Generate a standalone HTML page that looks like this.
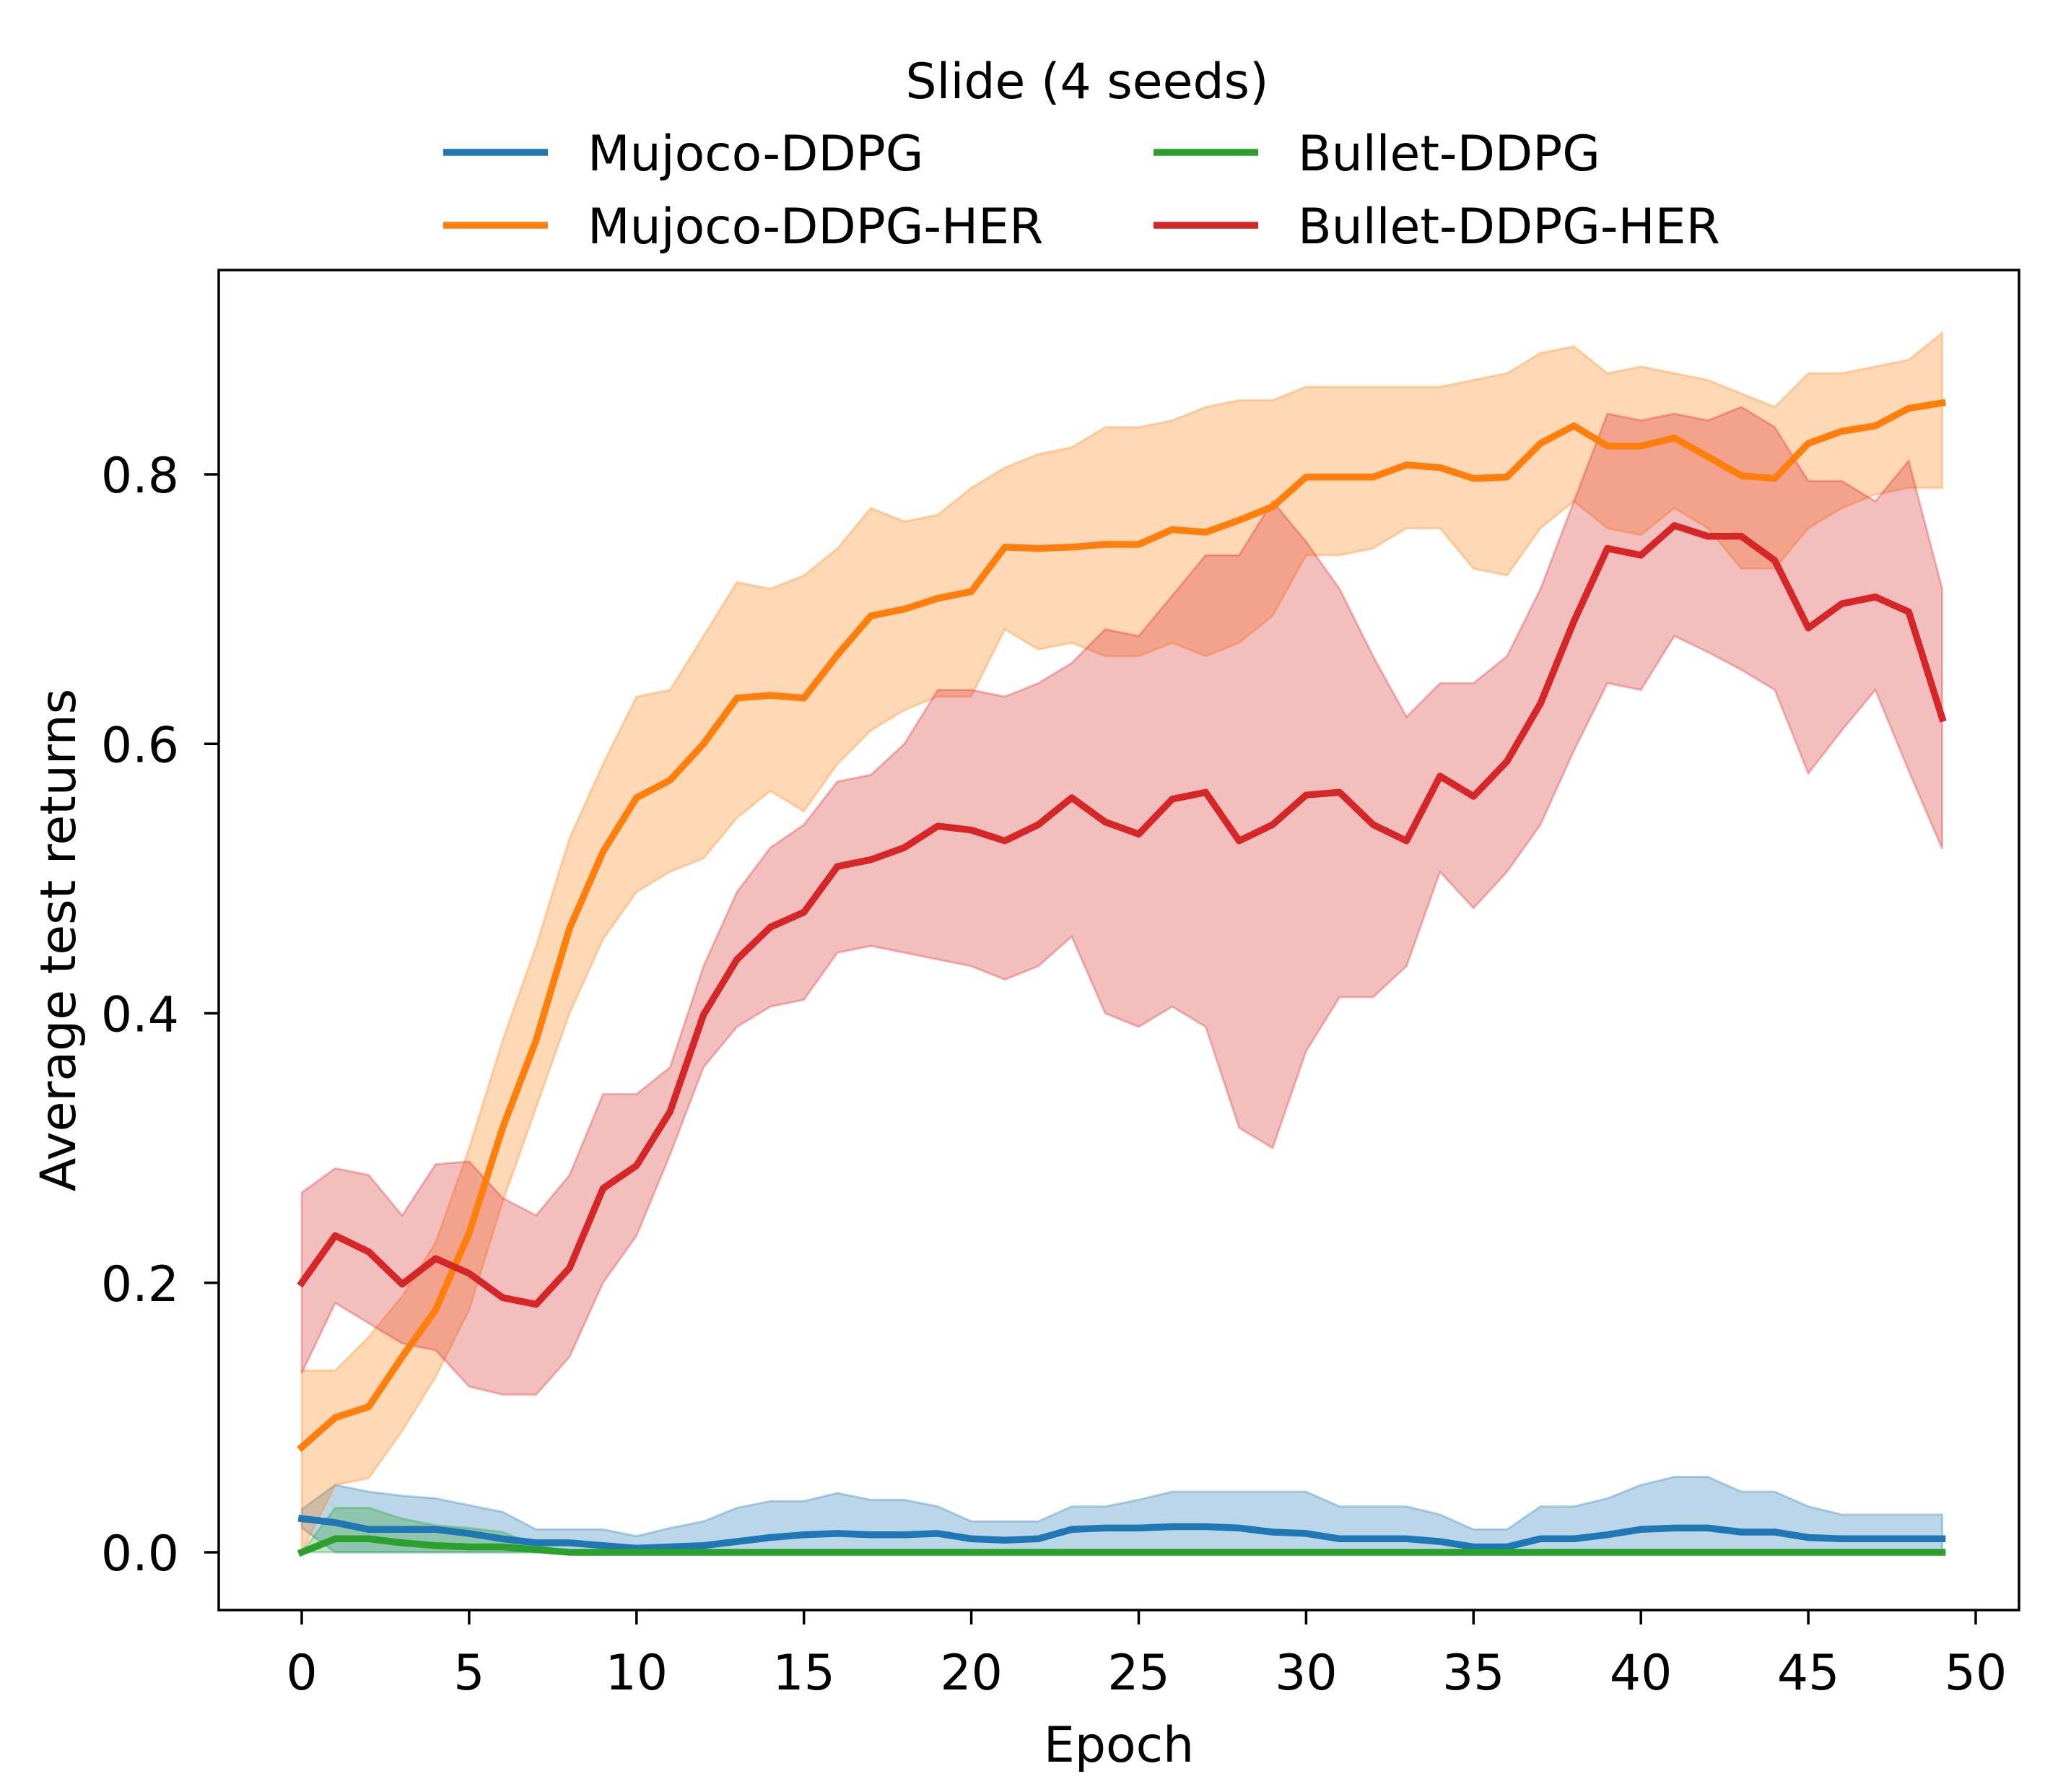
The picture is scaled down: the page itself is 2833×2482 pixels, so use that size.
<!DOCTYPE html>
<html><head><meta charset="utf-8"><style>
html,body{margin:0;padding:0;background:#fff;}
svg{display:block;font-family:"DejaVu Sans","Liberation Sans",sans-serif;}
</style></head><body>
<svg id="chart" xmlns="http://www.w3.org/2000/svg" width="2833" height="2482" viewBox="0 0 2833 2482">
<rect width="2833" height="2482" fill="#fff"/>
<g id="bands"></g><g id="lines"></g>
<rect x="303" y="374" width="2494" height="1856" fill="none" stroke="#000" stroke-width="3.5"/>
<g id="axes"></g>
<text x="1550" y="2440" font-size="68" text-anchor="middle">Epoch</text>
<text transform="translate(104,1302) rotate(-90)" font-size="68" text-anchor="middle">Average test returns</text>
<g id="legend">
<text x="1506" y="136" font-size="68" text-anchor="middle">Slide (4 seeds)</text>
</g>
</svg>
<script>
const epochs = Array.from({length:50},(_, i)=>i);
const xTicks = [0,5,10,15,20,25,30,35,40,45,50];
const yTicks = [0.0,0.2,0.4,0.6,0.8];
const yTickLabels = ["0.0","0.2","0.4","0.6","0.8"];
const seriesNames = ["Mujoco-DDPG","Mujoco-DDPG-HER","Bullet-DDPG","Bullet-DDPG-HER"];
const blueMean = [0.025,0.022,0.017,0.017,0.017,0.014,0.01,0.007,0.007,0.005,0.003,0.004,0.005,0.008,0.011,0.013,0.014,0.013,0.013,0.014,0.01,0.009,0.01,0.017,0.018,0.018,0.019,0.019,0.018,0.015,0.014,0.01,0.01,0.01,0.008,0.004,0.004,0.01,0.01,0.013,0.017,0.018,0.018,0.015,0.015,0.011,0.01,0.01,0.01,0.01];
const blueUpper = [0.032,0.05,0.045,0.042,0.04,0.035,0.03,0.017,0.017,0.017,0.012,0.018,0.023,0.033,0.038,0.038,0.044,0.039,0.039,0.034,0.023,0.023,0.023,0.034,0.034,0.039,0.045,0.045,0.045,0.045,0.045,0.034,0.034,0.034,0.028,0.017,0.017,0.034,0.034,0.04,0.05,0.056,0.056,0.045,0.045,0.034,0.028,0.028,0.028,0.028];
const blueLower = [0.018,0,0,0,0,0,0,0,0,0,0,0,0,0,0,0,0,0,0,0,0,0,0,0,0,0,0,0,0,0,0,0,0,0,0,0,0,0,0,0,0,0,0,0,0,0,0,0,0,0];
const orangeMean = [0.078,0.1,0.108,0.145,0.18,0.237,0.315,0.38,0.463,0.52,0.56,0.573,0.6,0.634,0.636,0.634,0.666,0.695,0.7,0.708,0.713,0.746,0.745,0.746,0.748,0.748,0.759,0.757,0.766,0.776,0.798,0.798,0.798,0.807,0.805,0.797,0.798,0.823,0.836,0.821,0.821,0.827,0.813,0.799,0.797,0.823,0.832,0.836,0.849,0.853];
const orangeUpper = [0.135,0.135,0.16,0.19,0.23,0.3,0.38,0.45,0.53,0.585,0.635,0.64,0.68,0.72,0.715,0.725,0.745,0.775,0.765,0.77,0.79,0.805,0.815,0.82,0.835,0.835,0.84,0.85,0.855,0.855,0.865,0.865,0.865,0.865,0.865,0.87,0.875,0.89,0.895,0.875,0.88,0.875,0.87,0.86,0.85,0.875,0.875,0.88,0.885,0.905];
const orangeLower = [0.0,0.05,0.055,0.09,0.13,0.18,0.26,0.33,0.4,0.455,0.49,0.505,0.515,0.545,0.565,0.55,0.585,0.61,0.625,0.635,0.635,0.685,0.67,0.675,0.665,0.665,0.675,0.665,0.675,0.695,0.74,0.74,0.745,0.76,0.76,0.73,0.725,0.76,0.78,0.76,0.755,0.775,0.76,0.73,0.73,0.76,0.775,0.785,0.79,0.79];
const greenMean = [0,0.01,0.01,0.007,0.005,0.004,0.004,0.002,0,0,0,0,0,0,0,0,0,0,0,0,0,0,0,0,0,0,0,0,0,0,0,0,0,0,0,0,0,0,0,0,0,0,0,0,0,0,0,0,0,0];
const greenUpper = [0,0.033,0.033,0.025,0.02,0.018,0.015,0.005,0,0,0,0,0,0,0,0,0,0,0,0,0,0,0,0,0,0,0,0,0,0,0,0,0,0,0,0,0,0,0,0,0,0,0,0,0,0,0,0,0,0];
const greenLower = [0,0,0,0,0,0,0,0,0,0,0,0,0,0,0,0,0,0,0,0,0,0,0,0,0,0,0,0,0,0,0,0,0,0,0,0,0,0,0,0,0,0,0,0,0,0,0,0,0,0];
const redMean = [0.2,0.235,0.223,0.199,0.218,0.207,0.189,0.184,0.211,0.27,0.287,0.327,0.399,0.44,0.464,0.475,0.509,0.514,0.523,0.539,0.536,0.528,0.54,0.56,0.542,0.533,0.559,0.564,0.528,0.54,0.562,0.564,0.54,0.528,0.576,0.561,0.587,0.63,0.691,0.745,0.74,0.762,0.754,0.754,0.736,0.686,0.704,0.709,0.698,0.619];
const redUpper = [0.267,0.285,0.28,0.25,0.288,0.29,0.263,0.25,0.28,0.34,0.34,0.36,0.435,0.49,0.523,0.54,0.572,0.577,0.6,0.64,0.64,0.635,0.645,0.66,0.685,0.68,0.71,0.74,0.74,0.78,0.75,0.715,0.665,0.62,0.645,0.645,0.665,0.715,0.78,0.845,0.84,0.845,0.84,0.85,0.835,0.795,0.795,0.78,0.81,0.715];
const redLower = [0.133,0.185,0.17,0.155,0.15,0.123,0.117,0.117,0.145,0.2,0.235,0.295,0.36,0.39,0.405,0.41,0.445,0.45,0.445,0.44,0.435,0.425,0.435,0.457,0.4,0.39,0.405,0.39,0.315,0.3,0.372,0.412,0.412,0.435,0.505,0.478,0.505,0.54,0.595,0.645,0.64,0.68,0.668,0.655,0.64,0.578,0.61,0.64,0.58,0.522];

const NS="http://www.w3.org/2000/svg";
const X0=418,X1=2737,Y0=2150,Y08=657;
const xs=e=>X0+e*(X1-X0)/50;
const ys=v=>Y0-v*(Y0-Y08)/0.8;
function mk(tag,attrs,parent){const el=document.createElementNS(NS,tag);for(const k in attrs)el.setAttribute(k,attrs[k]);parent.appendChild(el);return el;}
const bands=document.getElementById('bands'),lines=document.getElementById('lines'),axes=document.getElementById('axes'),legend=document.getElementById('legend');
const series=[
 {key:'mujoco-ddpg',mean:blueMean,up:blueUpper,lo:blueLower,c:'#1f77b4'},
 {key:'mujoco-ddpg-her',mean:orangeMean,up:orangeUpper,lo:orangeLower,c:'#ff7f0e'},
 {key:'bullet-ddpg',mean:greenMean,up:greenUpper,lo:greenLower,c:'#2ca02c'},
 {key:'bullet-ddpg-her',mean:redMean,up:redUpper,lo:redLower,c:'#d62728'}
];
series.forEach(s=>{
 let d='M'+epochs.map(e=>xs(e).toFixed(1)+','+ys(s.up[e]).toFixed(1)).join('L');
 d+='L'+epochs.slice().reverse().map(e=>xs(e).toFixed(1)+','+ys(s.lo[e]).toFixed(1)).join('L')+'Z';
 const b=mk('path',{d:d,fill:s.c,'fill-opacity':0.3,stroke:s.c,'stroke-opacity':0.3,'stroke-width':3},bands);
 
 
});
series.forEach(s=>{
 const d='M'+epochs.map(e=>xs(e).toFixed(1)+','+ys(s.mean[e]).toFixed(1)).join('L');
 const l=mk('path',{d:d,fill:'none',stroke:s.c,'stroke-width':9.5,'stroke-linejoin':'round','stroke-linecap':'square'},lines);
 
 
});
xTicks.forEach(t=>{
 const ln=mk('line',{x1:xs(t),x2:xs(t),y1:2230,y2:2250,stroke:'#000','stroke-width':3.5},axes);
 
 
 const tx=mk('text',{x:xs(t),y:2340,'font-size':68,'text-anchor':'middle'},axes);
 tx.textContent=t;
 
 
});
yTicks.forEach((t,i)=>{
 const ln=mk('line',{x1:283,x2:303,y1:ys(t),y2:ys(t),stroke:'#000','stroke-width':3.5},axes);
 
 
 const tx=mk('text',{x:248,y:ys(t)+25,'font-size':68,'text-anchor':'end'},axes);
 tx.textContent=yTickLabels[i];
 
 
});
const legPos=[[614,211],[614,312],[1598,211],[1598,312]];
series.forEach((s,i)=>{
 const [lx,ly]=legPos[i];
 const ln=mk('line',{x1:lx,x2:lx+145,y1:ly,y2:ly,stroke:s.c,'stroke-width':9.5},legend);
 
 
 const tx=mk('text',{x:lx+200,y:ly+25,'font-size':68},legend);
 tx.textContent=seriesNames[i];
 
 
});
</script>
</body></html>
